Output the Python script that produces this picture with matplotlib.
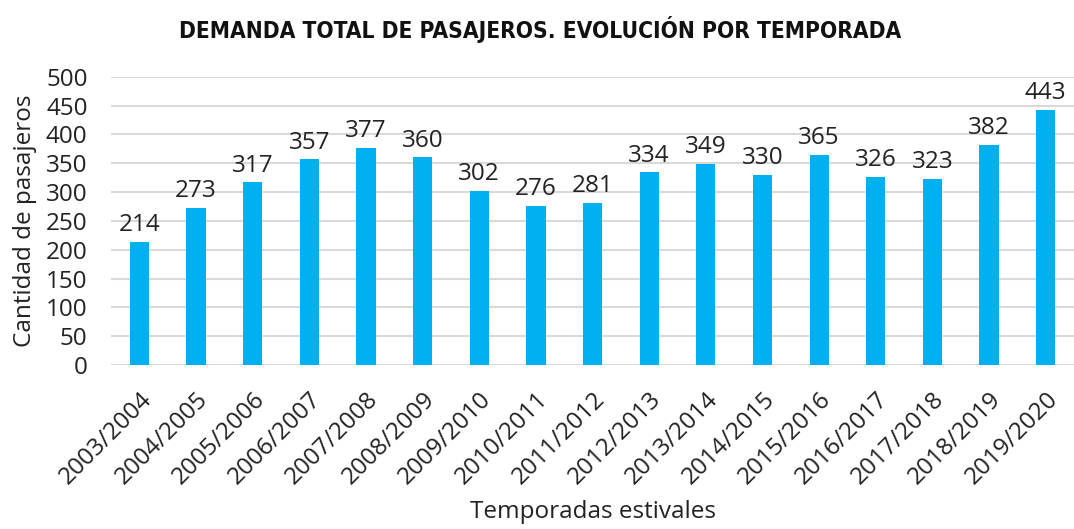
import matplotlib
matplotlib.use("Agg")
import matplotlib.pyplot as plt
import matplotlib.transforms as mtransforms

temporadas = ["2003/2004", "2004/2005", "2005/2006", "2006/2007", "2007/2008",
              "2008/2009", "2009/2010", "2010/2011", "2011/2012", "2012/2013",
              "2013/2014", "2014/2015", "2015/2016", "2016/2017", "2017/2018",
              "2018/2019", "2019/2020"]
pasajeros = [214, 273, 317, 357, 377, 360, 302, 276, 281, 334, 349, 330,
             365, 326, 323, 382, 443]

plt.rcParams['font.family'] = ['Open Sans', 'DejaVu Sans']

fig = plt.figure(figsize=(10.74, 5.29), dpi=100)
ax = fig.add_axes([0.1035, 0.31, 0.8965, 0.545])

x = list(range(len(temporadas)))
ax.bar(x, pasajeros, width=0.34, color="#00B0F0", zorder=3)
for xi, v in zip(x, pasajeros):
    ax.text(xi, v + 8, str(v), ha="center", va="bottom", fontsize=17.5, color="#222222")

ax.set_xlim(-0.5, len(temporadas) - 0.5)
ax.set_ylim(0, 500)
ax.set_yticks(range(0, 501, 50))
ax.yaxis.grid(True, color="#d9d9d9", linewidth=1.5, zorder=0)
ax.set_xticks(x)
ax.set_xticklabels(temporadas, rotation=45, ha="right", rotation_mode="anchor", fontsize=17.5)
# nudge rotated labels a little to the right, like the original
shift = mtransforms.ScaledTranslation(6 / 100, 0, fig.dpi_scale_trans)
for lbl in ax.get_xticklabels():
    lbl.set_transform(lbl.get_transform() + shift)
ax.tick_params(axis="y", labelsize=17.5, length=0, pad=17)
ax.tick_params(axis="x", length=0, pad=16, colors="#222222")
ax.tick_params(axis="y", colors="#222222")
for s in ax.spines.values():
    s.set_visible(False)

ax.set_ylabel("Cantidad de pasajeros", fontsize=17.5, color="#222222", labelpad=6)
ax.set_xlabel("Temporadas estivales", fontsize=17.5, color="#222222", labelpad=8)
fig.text(0.503, 0.945, "DEMANDA TOTAL DE PASAJEROS. EVOLUCIÓN POR TEMPORADA",
         ha="center", va="center", fontsize=16.3, fontweight="semibold",
         fontstretch="condensed", color="#111111",
         family=["DejaVu Sans"])

plt.savefig("out.png", dpi=100)
